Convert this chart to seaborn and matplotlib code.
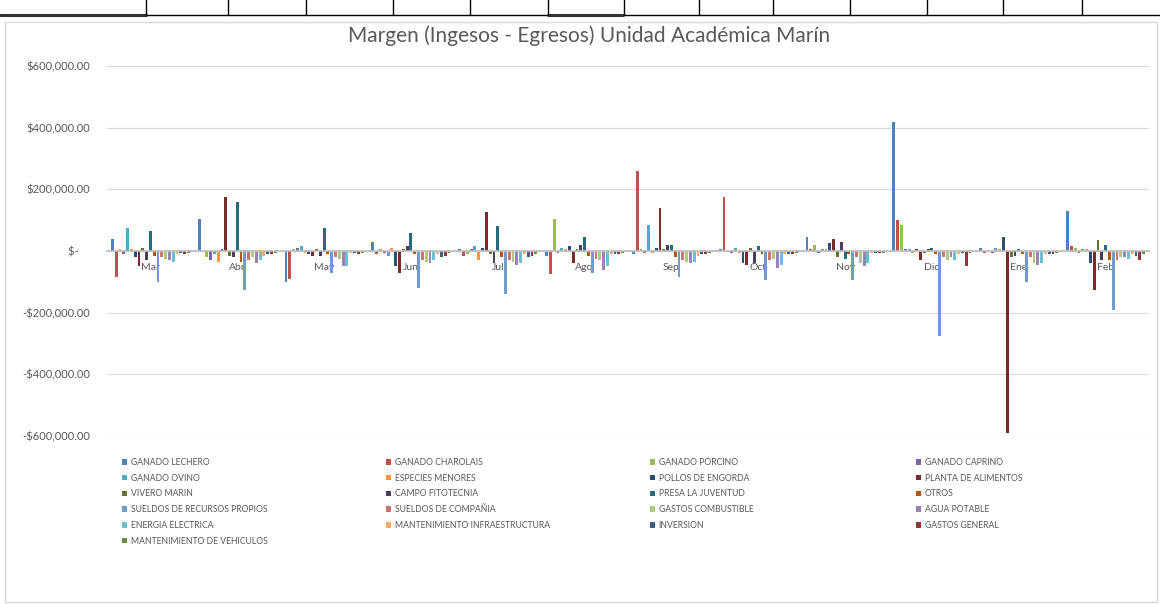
import pandas as pd
import seaborn as sns
from matplotlib import pyplot as plt
from matplotlib.lines import Line2D
from matplotlib.patches import Rectangle
from matplotlib.ticker import FuncFormatter

meses = ['Mar', 'Abr', 'May', 'Jun', 'Jul', 'Ago', 'Sep', 'Oct', 'Nov', 'Dic', 'Ene', 'Feb']

conceptos = ['GANADO LECHERO', 'GANADO CHAROLAIS', 'GANADO PORCINO', 'GANADO CAPRINO',
             'GANADO OVINO', 'ESPECIES MENORES', 'POLLOS DE ENGORDA', 'PLANTA DE ALIMENTOS',
             'VIVERO MARIN', 'CAMPO FITOTECNIA', 'PRESA LA JUVENTUD', 'OTROS',
             'SUELDOS DE RECURSOS PROPIOS', 'SUELDOS DE COMPAÑIA', 'GASTOS COMBUSTIBLE', 'AGUA POTABLE',
             'ENERGIA ELECTRICA', 'MANTENIMIENTO INFRAESTRUCTURA', 'INVERSION', 'GASTOS GENERAL',
             'MANTENIMIENTO DE VEHICULOS']

# margen por concepto, miles de pesos, de Mar a Feb
ganado_lechero = [40, 105, -100, 30, 5, -15, -10, 5, 45, 420, 10, 130]
ganado_charolais = [-85, 0, -90, -10, -15, -75, 260, 175, 5, 100, -5, 15]
ganado_porcino = [5, -20, 5, 5, -10, 105, 5, 0, 20, 85, 0, 10]
ganado_caprino = [-10, -30, 10, -5, 5, -5, -5, -5, -5, 5, -5, -5]
ganado_ovino = [75, -10, 15, -15, 15, 10, 85, 10, 5, 5, 10, 5]
especies_menores = [5, -35, -5, 10, -30, 5, -5, -5, 5, -5, 5, 5]
pollos_engorda = [-20, 5, -10, -50, 10, 15, 10, -40, 25, 5, 45, -40]
planta_alimentos = [-50, 175, -15, -70, 125, -40, 140, -45, 40, -30, -590, -125]
vivero_marin = [10, -15, 5, 5, -10, 5, 5, 10, -20, -5, -20, 35]
campo_fitotecnia = [-30, -20, -15, 15, -40, 20, 20, -40, 30, 5, -15, -30]
presa_juventud = [65, 160, 75, 60, 80, 45, 20, 15, -25, 10, 5, 20]
otros = [-15, -35, -10, -10, -20, -15, -20, -10, -10, -10, -10, -30]
sueldos_propios = [-100, -125, -70, -120, -140, -70, -85, -95, -95, -275, -100, -190]
sueldos_compania = [-20, -30, -20, -30, -30, -25, -30, -30, -20, -20, -20, -30]
gastos_combustible = [-25, -20, -25, -35, -35, -30, -35, -25, -40, -30, -40, -20]
agua_potable = [-30, -40, -50, -40, -45, -60, -40, -55, -50, -20, -45, -20]
energia_electrica = [-35, -30, -50, -30, -40, -50, -35, -45, -40, -30, -40, -25]
mant_infraestructura = [-10, -15, -5, -10, -10, -10, -15, -10, -5, -10, -10, -10]
inversion = [-5, -10, -5, -20, -20, -10, -10, -10, -5, -5, -10, -15]
gastos_general = [-10, -10, -10, -15, -15, -10, -10, -10, -5, -50, -10, -30]
mant_vehiculos = [-5, -5, -5, -5, -10, -5, -5, -5, -5, -5, -5, -10]

series = [ganado_lechero, ganado_charolais, ganado_porcino, ganado_caprino, ganado_ovino,
          especies_menores, pollos_engorda, planta_alimentos, vivero_marin, campo_fitotecnia,
          presa_juventud, otros, sueldos_propios, sueldos_compania, gastos_combustible,
          agua_potable, energia_electrica, mant_infraestructura, inversion, gastos_general,
          mant_vehiculos]

colores = ['#4F81BD', '#C0504D', '#9BBB59', '#8064A2', '#4BACC6', '#F79646',
           '#2C4D75', '#772C2A', '#5F7530', '#4D3B62', '#276A7C', '#B65708',
           '#729ACA', '#CD7371', '#AFC97A', '#9983B5', '#6FBDD1', '#F9AB6B',
           '#3A5F8B', '#8C3836', '#71893F']

rows = []
for nombre, vals in zip(conceptos, series):
    for mes, v in zip(meses, vals):
        rows.append({'mes': mes, 'concepto': nombre, 'margen': v * 1000})
df = pd.DataFrame(rows)

sns.set_theme(style='white')
plt.rcParams['font.family'] = ['Lato', 'DejaVu Sans']
gris = '#595959'

W, H = 1160, 604
fig = plt.figure(figsize=(11.6, 6.04), dpi=100)

# rejilla de la hoja de calculo arriba
fig.add_artist(Line2D([0, 1], [1 - 15 / H, 1 - 15 / H], color='black', lw=1))
for x0, x1 in [(0, 146), (548, 623)]:
    fig.add_artist(Line2D([x0 / W, x1 / W], [1 - 15 / H, 1 - 15 / H], color='#333333', lw=2.2))
for xv in [146, 228, 306, 393, 470, 548, 624, 699, 773, 850, 927, 1003, 1082]:
    fig.add_artist(Line2D([xv / W, xv / W], [1 - 15 / H, 1], color='black', lw=1))
# marco del grafico
fig.add_artist(Rectangle((5 / W, 2 / H), 1152 / W, 580 / H, fill=False, ec='#D9D9D9', lw=1))

ax = fig.add_axes([107 / W, 1 - 436 / H, 1042 / W, 370 / H])
sns.barplot(data=df, x='mes', y='margen', hue='concepto', order=meses, hue_order=conceptos,
            palette=colores, saturation=1, width=0.92, gap=0.25, errorbar=None, linewidth=0, ax=ax)

ax.set_ylim(-600000, 600000)
ax.set_yticks(range(-600000, 600001, 200000))


def pesos(v, pos):
    if v == 0:
        return '$-    '
    if v < 0:
        return '-$' + f'{-v:,.2f}'
    return '$' + f'{v:,.2f}'


ax.yaxis.set_major_formatter(FuncFormatter(pesos))
ax.yaxis.grid(True, color='#D9D9D9', lw=0.9)
ax.set_axisbelow(True)
for s in ['top', 'right', 'left']:
    ax.spines[s].set_visible(False)
ax.spines['bottom'].set_position(('data', 0))
ax.spines['bottom'].set_color('#BFBFBF')
ax.tick_params(axis='both', length=0, labelsize=7.5, labelcolor=gris)
ax.tick_params(axis='y', labelsize=8)
ax.tick_params(axis='x', pad=9)
ax.tick_params(axis='y', pad=12)
ax.set_xlabel('')
ax.set_ylabel('')

fig.text(589 / W, 1 - 36 / H, 'Margen (Ingesos - Egresos) Unidad Académica Marín',
         ha='center', va='center', fontsize=15, color=gris)

handles, labels = ax.get_legend_handles_labels()
ax.get_legend().remove()
for c, xl in enumerate([122, 386, 650, 916]):
    leg = fig.legend(handles[c::4], labels[c::4], loc='upper left',
                     bbox_to_anchor=(xl / W, 1 - 458 / H), frameon=False, fontsize=6.2,
                     handlelength=0.6, handleheight=0.6, handletextpad=0.4,
                     labelspacing=0.78, borderpad=0, borderaxespad=0, labelcolor=gris)

fig.savefig('out.png', dpi=100)
